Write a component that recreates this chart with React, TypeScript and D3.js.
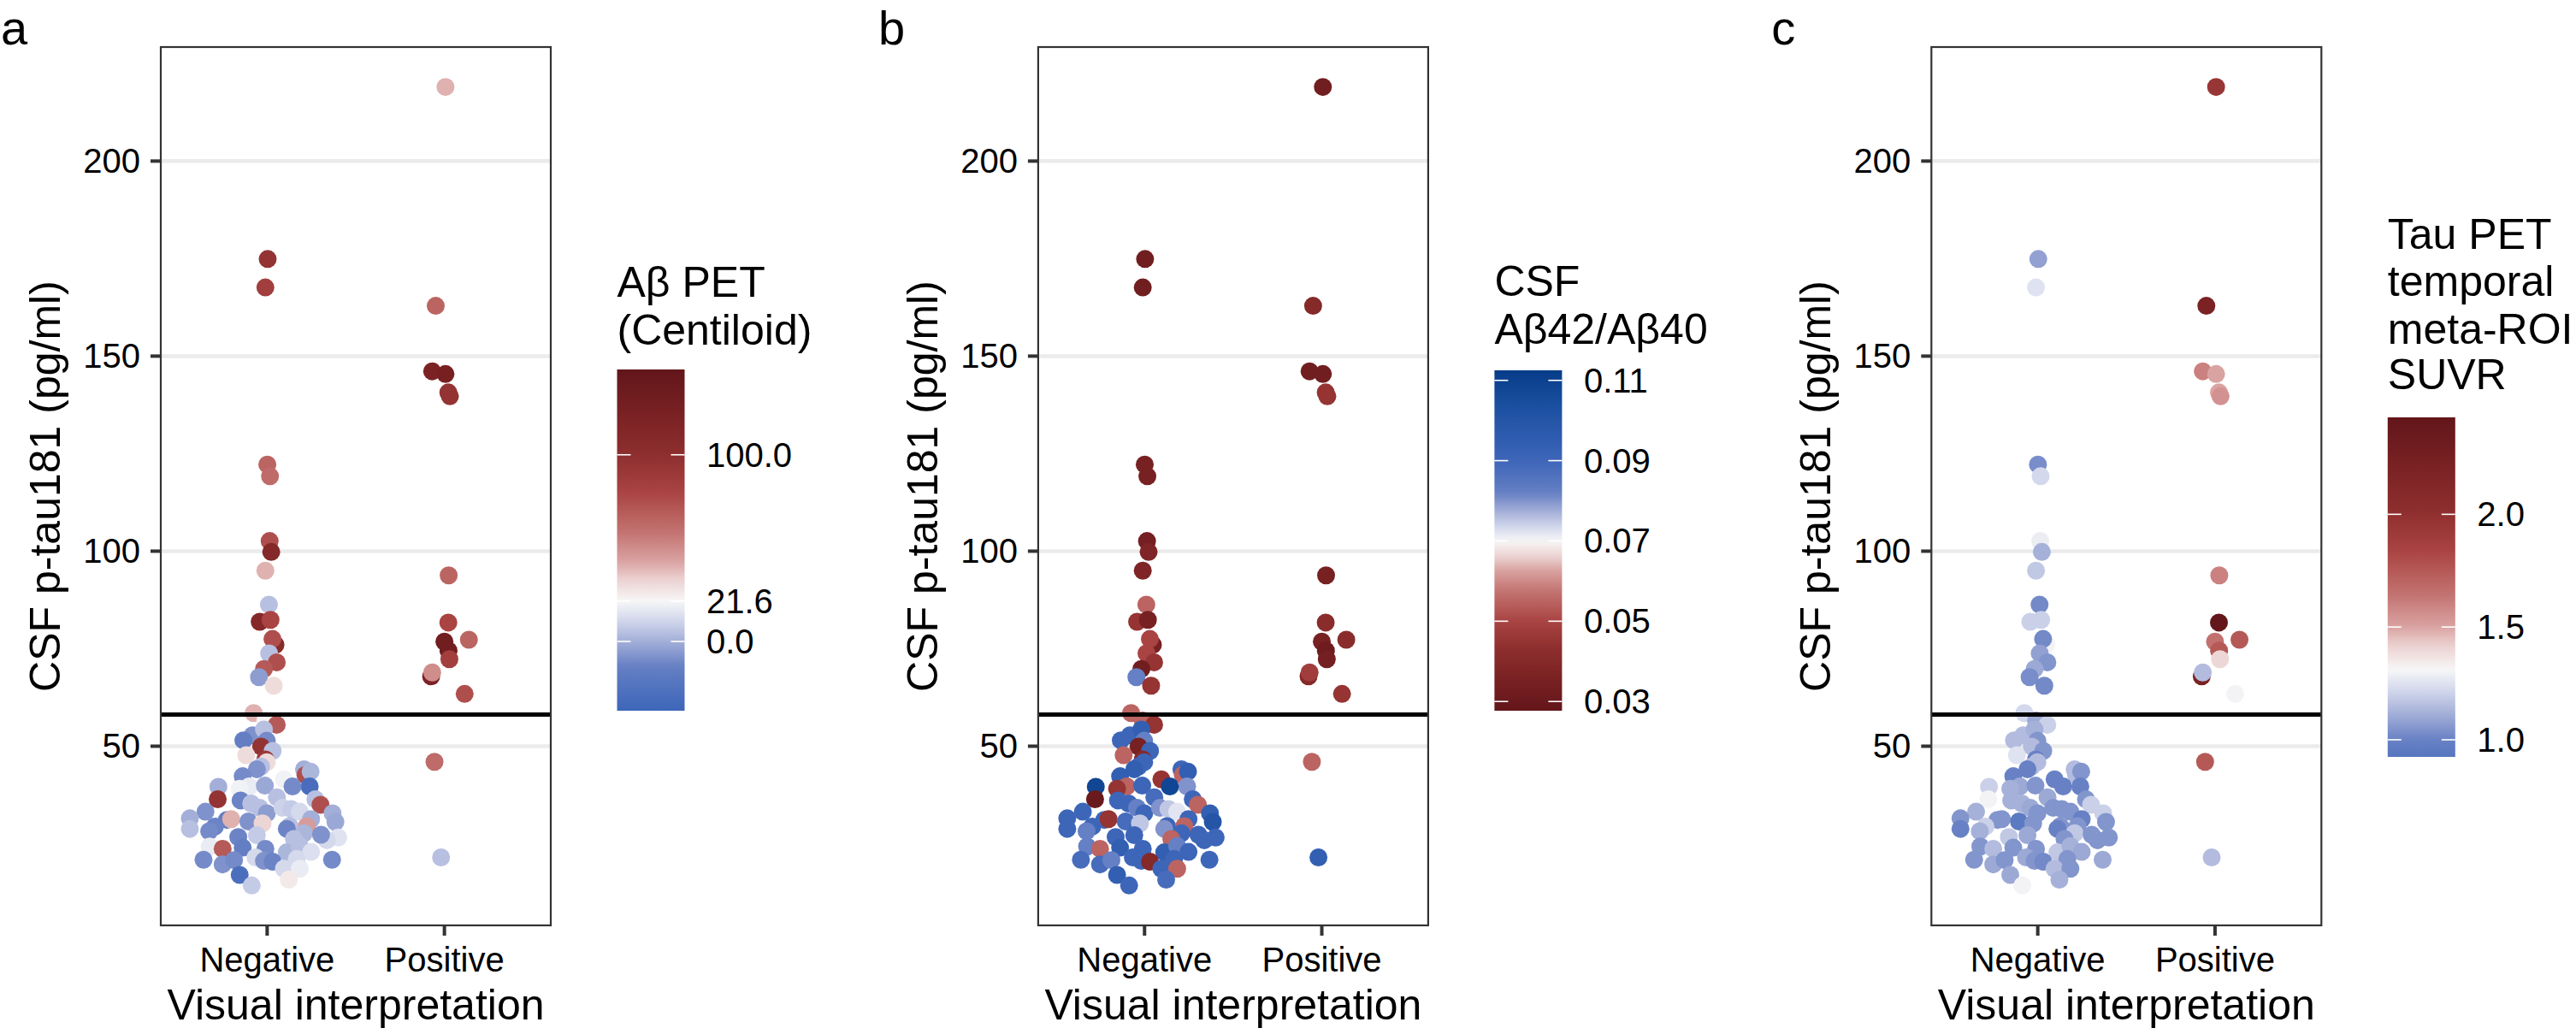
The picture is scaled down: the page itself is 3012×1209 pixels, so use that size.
import React, { useEffect } from 'react';
import * as d3 from 'd3';

// ---------------- DATA ----------------
const categories = ['Negative', 'Positive'];
const yTicks = [50, 100, 150, 200];
const cutoff = 58.1;

// Negative visual read: horizontal jitter (category units), CSF p-tau181 (pg/ml)
const negJitter = [
  0.003, -0.010, 0.001, 0.016, 0.014, 0.023, -0.010, 0.010, -0.042, 0.019, 0.047, 0.030, 0.011, 0.054, -0.018, -0.046, 0.037, -0.076, -0.010, 0.054,
  -0.082, -0.018,
  -0.134, -0.002, -0.034, 0.031, -0.118, -0.010, -0.002, -0.034, -0.058, -0.138,
  0.208, 0.216, 0.245, 0.095, 0.240, 0.143, -0.275, -0.101, -0.155, -0.013,
  -0.279, -0.150, 0.055, 0.272, 0.301, -0.090, -0.042, -0.002, 0.087, 0.135,
  0.184, -0.348, -0.436, 0.369, 0.385, 0.248, -0.227, -0.203, -0.106, -0.026,
  0.127, -0.295, -0.327, -0.436, 0.111, 0.224, 0.208, -0.058, -0.163, 0.151,
  0.401, 0.337, 0.304, -0.324, -0.251, -0.138, -0.010, 0.111, 0.184, 0.248,
  -0.359, -0.251, -0.187, -0.066, -0.018, 0.031, 0.167, 0.366, 0.095, 0.184,
  -0.155, 0.122, -0.087,
];
const negPtau = [
  174.9, 167.6, 122.2, 119.2, 102.6, 99.8, 95.0, 86.3, 81.9, 82.4, 76.0, 77.5, 73.8, 71.5, 69.8, 67.7, 65.5, 58.5, 56.6, 55.5,
  52.8, 54.3,
  51.5, 51.4, 49.9, 48.8, 47.7, 46.6, 45.9, 44.8, 44.1, 42.3,
  44.1, 42.6, 43.5, 41.5, 39.7, 39.7, 39.6, 39.7, 39.1, 39.9,
  36.4, 36.1, 36.9, 36.4, 35.0, 35.3, 34.2, 32.8, 34.2, 33.9,
  33.2, 33.2, 31.5, 32.8, 30.6, 31.3, 31.1, 31.3, 30.7, 30.2,
  29.5, 29.4, 28.2, 28.8, 28.8, 29.5, 27.7, 27.2, 26.7, 26.2,
  26.6, 25.9, 27.3, 24.3, 23.7, 24.0, 23.7, 22.8, 24.4, 22.9,
  20.9, 19.7, 20.8, 21.5, 20.6, 20.4, 21.1, 20.9, 18.6, 18.6,
  17.0, 15.8, 14.3,
];
const negCentiloid = [
  95, 85, 65, 62, 75, 110, 40, 5, 110, 80, 105, 75, 5, 75, 70, -5, 30, 40, 22, 70,
  -8, 5,
  -15, -10, 95, 5, 30, 90, 30, 5, -8, -10,
  0, 75, 2, 20, -30, -10, 0, 18, 20, -2,
  95, -12, 5, 5, 75, 5, 5, -5, 10, 8,
  12, -8, 0, 0, -2, 0, -15, 40, -8, 32,
  5, -12, -10, 5, -12, 45, 2, 8, -12, 5,
  15, 12, -8, 18, 70, -15, -10, 2, 5, 14,
  -10, -8, -10, 12, -8, -12, 12, -10, 12, 18,
  -28, 26, 8,
];
const negAbRatio = [
  0.033, 0.033, 0.035, 0.035, 0.034, 0.038, 0.038, 0.055, 0.045, 0.035, 0.035, 0.05, 0.05, 0.045, 0.033, 0.082, 0.045, 0.055, 0.055, 0.045,
  0.09, 0.094,
  0.09, 0.082, 0.035, 0.09, 0.055, 0.04, 0.09, 0.09, 0.094, 0.094,
  0.09, 0.055, 0.094, 0.045, 0.08, 0.108, 0.108, 0.055, 0.045, 0.09,
  0.03, 0.09, 0.088, 0.09, 0.055, 0.09, 0.082, 0.09, 0.08, 0.075,
  0.072, 0.09, 0.09, 0.094, 0.1, 0.09, 0.09, 0.045, 0.088, 0.075,
  0.09, 0.09, 0.082, 0.09, 0.08, 0.055, 0.09, 0.09, 0.09, 0.055,
  0.09, 0.09, 0.09, 0.082, 0.055, 0.094, 0.09, 0.094, 0.082, 0.09,
  0.088, 0.088, 0.082, 0.09, 0.09, 0.04, 0.09, 0.09, 0.09, 0.055,
  0.094, 0.088, 0.09,
];
const negTauSuvr = [
  1.08, 1.25, 1.03, 1.22, 1.28, 1.12, 1.18, 1.02, 1.2, 1.2, 1.3, 1.02, 1.08, 1.05, 1.1, 1.03, 1.02, 1.22, 1.1, 1.2,
  1.15, 1.12,
  1.15, 1.05, 1.15, 1.05, 1.25, 1.0, 1.15, 1.15, 1.0, 1.0,
  1.15, 1.15, 1.05, 1.0, 1.0, 1.0, 1.2, 1.1, 1.12, 1.05,
  1.3, 1.12, 1.1, 1.05, 1.2, 1.12, 1.1, 1.05, 1.05, 1.05,
  1.05, 1.12, 1.05, 1.2, 1.05, 1.0, 1.05, 1.05, 0.95, 1.05,
  1.05, 1.2, 1.12, 1.0, 1.0, 1.05, 1.18, 1.1, 1.18, 1.05,
  1.05, 1.05, 1.05, 1.05, 1.15, 1.05, 1.05, 1.18, 1.12, 1.1,
  1.05, 1.1, 1.05, 1.1, 1.05, 1.02, 1.05, 1.1, 1.15, 1.05,
  1.1, 1.12, 1.3,
];

// Positive visual read
const posJitter = [0.006, -0.049, -0.069, 0.006, 0.022, 0.031, 0.024, 0.022, 0.138, 0.0, 0.023, 0.028, -0.075, -0.069, 0.114, -0.056, -0.019];
const posPtau = [219.0, 162.9, 146.1, 145.4, 140.7, 139.7, 93.8, 81.7, 77.3, 76.8, 74.5, 72.3, 67.9, 68.9, 63.4, 46.0, 21.5];
const posCentiloid = [40, 65, 120, 125, 95, 95, 65, 80, 65, 130, 130, 85, 120, 50, 75, 62, 5];
const posAbRatio = [0.033, 0.04, 0.033, 0.033, 0.045, 0.045, 0.035, 0.042, 0.042, 0.035, 0.032, 0.034, 0.04, 0.048, 0.045, 0.055, 0.094];
const posTauSuvr = [1.95, 2.2, 1.6, 1.5, 1.5, 1.55, 1.6, 2.42, 1.75, 1.65, 1.75, 1.4, 2.2, 1.15, 1.3, 1.75, 1.15];

// Colour scale limits / midpoints / breaks
const centiloidLimits = [-37.1, 145.7];
const abRatioLimits = [0.0277, 0.1125];
const tauLimits = [0.924, 2.43];
const centiloidBreaks = [0, 21.6, 100];
const abRatioBreaks = [0.03, 0.05, 0.07, 0.09, 0.11];
const tauBreaks = [1.0, 1.5, 2.0];

// Diverging palette (blue -> white -> dark red)
const paletteT = [0, 0.1, 0.2, 0.265, 0.33, 0.36, 0.413, 0.46, 0.5, 0.55, 0.585, 0.65, 0.735, 0.815, 0.9, 1];
const paletteCol = ['#053C88', '#1A4FA0', '#2F5CB0', '#3D66B9', '#5877C0', '#6680C4', '#A3AFD8', '#D3D8EC', '#F7F7F7',
  '#EACFCE', '#D9A3A2', '#C27270', '#A94443', '#8E2E2E', '#7A2224', '#62161A'];

// ---------------- LAYOUT ----------------
const W = 3012, H = 1209;
const FONT = "'Liberation Sans', Arial, Helvetica, sans-serif";
const PL = 188, PR = 644, PT = 55, PB = 1082;

const pal = d3.scaleLinear<string>().domain(paletteT).range(paletteCol).interpolate(d3.interpolateLab).clamp(true);

function makeColor(limits: number[], mid: number, reverse: boolean) {
  const maxd = Math.max(limits[1] - mid, mid - limits[0]);
  return (v: number) => {
    let t = 0.5 + (v - mid) / (2 * maxd);
    if (reverse) t = 1 - t;
    return pal(t);
  };
}

type Row = { cat: number; jit: number; ptau: number; vals: number[] };
const rows: Row[] = [
  ...negPtau.map((p, i) => ({ cat: 0, jit: negJitter[i], ptau: p, vals: [negCentiloid[i], negAbRatio[i], negTauSuvr[i]] })),
  ...posPtau.map((p, i) => ({ cat: 1, jit: posJitter[i], ptau: p, vals: [posCentiloid[i], posAbRatio[i], posTauSuvr[i]] })),
];

const ext = d3.extent(rows, (r) => r.ptau) as [number, number];
const pad = (ext[1] - ext[0]) * 0.05;

const panels = [
  { off: 0, label: 'a', title: ['Aβ PET', '(Centiloid)'], limits: centiloidLimits, mid: 21.6, reverse: false, breaks: centiloidBreaks, dec: 1, barTop: 432, barBottom: 831, titleY: [347, 403] },
  { off: 1025.9, label: 'b', title: ['CSF', 'Aβ42/Aβ40'], limits: abRatioLimits, mid: 0.07, reverse: true, breaks: abRatioBreaks, dec: 2, barTop: 433, barBottom: 831, titleY: [346, 402] },
  { off: 2070.3, label: 'c', title: ['Tau PET', 'temporal', 'meta-ROI', 'SUVR'], limits: tauLimits, mid: 1.31, reverse: false, breaks: tauBreaks, dec: 1, barTop: 488, barBottom: 885, titleY: [291, 346, 402, 455] },
];

function Panel({ p, idx }: { p: typeof panels[number]; idx: number }) {
  const x = d3.scaleLinear().domain([0.4, 2.6]).range([p.off + PL, p.off + PR]);
  const y = d3.scaleLinear().domain([ext[0] - pad, ext[1] + pad]).range([PB, PT]);
  const color = makeColor(p.limits, p.mid, p.reverse);
  const lx0 = p.off + 721.5, lx1 = p.off + 800.5;
  const ly = d3.scaleLinear().domain(p.limits).range([p.barBottom, p.barTop]);
  const gid = `grad${idx}`;
  const nStops = 60;
  const stops = d3.range(nStops).map((k) => {
    const v = p.limits[1] - (p.limits[1] - p.limits[0]) * (k / (nStops - 1));
    return { off: k / (nStops - 1), c: color(v) };
  });
  return (
    <g>
      <defs>
        <linearGradient id={gid} x1="0" y1="0" x2="0" y2="1">
          {stops.map((s, i) => (
            <stop key={i} offset={s.off} stopColor={s.c} />
          ))}
        </linearGradient>
      </defs>
      {/* panel label */}
      <text x={p.off + 1} y={52} fontSize={56} fontFamily={FONT} fill="#000">{p.label}</text>
      {/* grid */}
      {yTicks.map((t) => (
        <line key={t} x1={p.off + PL} x2={p.off + PR} y1={y(t)} y2={y(t)} stroke="#EBEBEB" strokeWidth={4.5} />
      ))}
      {/* points */}
      {rows.map((r, i) => (
        <circle key={i} cx={x(r.cat + 1 + r.jit)} cy={y(r.ptau)} r={10.5} fill={color(r.vals[idx])} />
      ))}
      {/* cutoff line */}
      <line x1={p.off + PL} x2={p.off + PR} y1={y(cutoff)} y2={y(cutoff)} stroke="#000" strokeWidth={5} />
      {/* border */}
      <rect x={p.off + PL} y={PT} width={PR - PL} height={PB - PT} fill="none" stroke="#333" strokeWidth={2.2} />
      {/* y axis */}
      {yTicks.map((t) => (
        <g key={t}>
          <line x1={p.off + PL - 12} x2={p.off + PL} y1={y(t)} y2={y(t)} stroke="#333" strokeWidth={4} />
          <text x={p.off + 164} y={y(t)} dy="0.35em" textAnchor="end" fontSize={40} fontFamily={FONT} fill="#000">{t}</text>
        </g>
      ))}
      {/* x axis */}
      {categories.map((c, i) => (
        <g key={c}>
          <line x1={x(i + 1)} x2={x(i + 1)} y1={PB} y2={PB + 12} stroke="#333" strokeWidth={4} />
          <text x={x(i + 1)} y={1136} textAnchor="middle" fontSize={40} fontFamily={FONT} fill="#000">{c}</text>
        </g>
      ))}
      <text x={p.off + (PL + PR) / 2} y={1192} textAnchor="middle" fontSize={50} fontFamily={FONT} fill="#000">Visual interpretation</text>
      <text transform={`translate(${p.off + 70},${(PT + PB) / 2}) rotate(-90)`} textAnchor="middle" fontSize={50} fontFamily={FONT} fill="#000">CSF p-tau181 (pg/ml)</text>
      {/* legend */}
      {p.title.map((t, i) => (
        <text key={i} x={lx0} y={p.titleY[i]} fontSize={50} fontFamily={FONT} fill="#000">{t}</text>
      ))}
      <rect x={lx0} y={p.barTop} width={lx1 - lx0} height={p.barBottom - p.barTop} fill={`url(#${gid})`} />
      {p.breaks.map((b) => (
        <g key={b}>
          <line x1={lx0} x2={lx0 + 16} y1={ly(b)} y2={ly(b)} stroke="#fff" strokeWidth={1.6} />
          <line x1={lx1 - 16} x2={lx1} y1={ly(b)} y2={ly(b)} stroke="#fff" strokeWidth={1.6} />
          <text x={p.off + 826} y={ly(b)} dy="0.35em" fontSize={40} fontFamily={FONT} fill="#000">{b.toFixed(p.dec)}</text>
        </g>
      ))}
    </g>
  );
}

export default function App() {
  useEffect(() => {
    document.body.style.margin = '0';
    document.body.style.overflow = 'hidden';
  }, []);
  return (
    <div style={{ position: 'absolute', left: 0, top: 0, width: W, height: H, background: '#fff' }}>
      <svg width={W} height={H} viewBox={`0 0 ${W} ${H}`} style={{ display: 'block' }}>
        <rect width={W} height={H} fill="#fff" />
        {panels.map((p, i) => (
          <Panel key={p.label} p={p} idx={i} />
        ))}
      </svg>
    </div>
  );
}
